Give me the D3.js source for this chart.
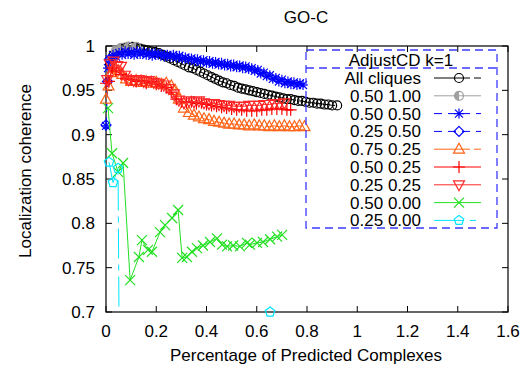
<!DOCTYPE html>
<html>
<head>
<meta charset="utf-8">
<script src="https://cdn.jsdelivr.net/npm/d3@7"></script>
<style>
body{margin:0;background:#fff;}
text{font-family:"Liberation Sans",Arial,sans-serif;font-size:17px;fill:#000;}
</style>
</head>
<body>
<svg id="chart" width="524" height="369"></svg>
<script>
// data: [percentage, coherence]
var allCliques = [[0.016,0.980],[0.03,0.990],[0.045,0.995],[0.06,0.997],[0.075,0.998],[0.09,0.999],[0.105,0.999],[0.12,0.998],[0.135,0.997],[0.15,0.996],[0.165,0.995],[0.18,0.994],[0.195,0.993],[0.21,0.992],[0.225,0.990],[0.24,0.988],[0.255,0.986],[0.27,0.984],[0.285,0.982],[0.30,0.980],[0.315,0.978],[0.33,0.976],[0.345,0.975],[0.36,0.973],[0.375,0.971],[0.39,0.969],[0.405,0.967],[0.42,0.965],[0.435,0.963],[0.45,0.961],[0.465,0.959],[0.48,0.958],[0.495,0.956],[0.51,0.955],[0.525,0.953],[0.54,0.952],[0.555,0.951],[0.57,0.950],[0.585,0.949],[0.60,0.948],[0.615,0.947],[0.63,0.946],[0.645,0.945],[0.66,0.944],[0.675,0.943],[0.69,0.942],[0.705,0.941],[0.72,0.940],[0.735,0.940],[0.75,0.939],[0.765,0.938],[0.78,0.938],[0.795,0.937],[0.81,0.936],[0.825,0.936],[0.84,0.935],[0.855,0.935],[0.87,0.934],[0.885,0.934],[0.90,0.933],[0.92,0.933]];
var s050_100 = [[0.02,0.985],[0.04,0.995],[0.06,0.998],[0.09,0.999],[0.12,0.999]];
var s050_050 = [[0.0,0.910],[0.008,0.975],[0.016,0.985],[0.028,0.990],[0.04,0.988],[0.052,0.992],[0.064,0.990],[0.076,0.994],[0.088,0.991],[0.10,0.993],[0.112,0.990],[0.124,0.994],[0.136,0.991],[0.148,0.993],[0.16,0.990],[0.172,0.992],[0.184,0.989],[0.196,0.992],[0.208,0.990],[0.22,0.991],[0.232,0.988],[0.244,0.990],[0.256,0.988],[0.268,0.990],[0.28,0.987],[0.292,0.989],[0.304,0.986],[0.316,0.987],[0.328,0.985],[0.34,0.986],[0.352,0.983],[0.364,0.985],[0.376,0.982],[0.388,0.984],[0.40,0.981],[0.412,0.983],[0.424,0.980],[0.436,0.982],[0.448,0.979],[0.46,0.981],[0.472,0.978],[0.484,0.980],[0.496,0.977],[0.508,0.979],[0.52,0.976],[0.532,0.978],[0.544,0.975],[0.556,0.977],[0.568,0.974],[0.58,0.975],[0.592,0.972],[0.604,0.973],[0.616,0.969],[0.628,0.970],[0.64,0.966],[0.652,0.967],[0.664,0.963],[0.676,0.964],[0.688,0.960],[0.70,0.962],[0.712,0.958],[0.724,0.960],[0.736,0.957],[0.748,0.959],[0.76,0.956],[0.772,0.958],[0.784,0.956]];
var s025_050 = [[0.0,0.911],[0.006,0.960],[0.014,0.985]];
var s075_025 = [[0.0,0.940],[0.01,0.955],[0.02,0.970],[0.035,0.975],[0.05,0.972],[0.065,0.968],[0.08,0.963],[0.10,0.960],[0.12,0.961],[0.14,0.959],[0.16,0.960],[0.18,0.958],[0.20,0.959],[0.22,0.957],[0.24,0.958],[0.26,0.955],[0.275,0.950],[0.29,0.940],[0.31,0.930],[0.33,0.925],[0.35,0.922],[0.37,0.920],[0.39,0.918],[0.41,0.917],[0.43,0.915],[0.45,0.914],[0.47,0.913],[0.49,0.912],[0.51,0.912],[0.53,0.911],[0.55,0.911],[0.57,0.910],[0.59,0.911],[0.61,0.910],[0.63,0.910],[0.65,0.909],[0.67,0.910],[0.69,0.909],[0.71,0.910],[0.73,0.909],[0.75,0.909],[0.77,0.910],[0.79,0.909]];
var s050_025 = [[0.0,0.958],[0.012,0.960],[0.025,0.975],[0.04,0.972],[0.06,0.968],[0.08,0.963],[0.10,0.962],[0.12,0.960],[0.14,0.961],[0.16,0.958],[0.18,0.960],[0.20,0.957],[0.22,0.955],[0.24,0.953],[0.26,0.948],[0.28,0.940],[0.30,0.937],[0.32,0.936],[0.34,0.937],[0.36,0.935],[0.38,0.936],[0.40,0.934],[0.42,0.933],[0.44,0.932],[0.46,0.931],[0.48,0.930],[0.50,0.929],[0.52,0.928],[0.54,0.928],[0.56,0.927],[0.58,0.927],[0.60,0.927],[0.62,0.928],[0.64,0.928],[0.66,0.929],[0.68,0.929],[0.70,0.929],[0.72,0.928],[0.735,0.928]];
var s025_025 = [[0.005,0.962],[0.015,0.980],[0.03,0.983],[0.045,0.978],[0.06,0.977],[0.075,0.967],[0.09,0.962],[0.11,0.961],[0.13,0.962],[0.15,0.960],[0.17,0.961],[0.19,0.959],[0.21,0.958],[0.23,0.956],[0.25,0.952],[0.27,0.946],[0.29,0.939],[0.31,0.936],[0.33,0.938],[0.35,0.937],[0.37,0.938],[0.39,0.936],[0.41,0.935],[0.43,0.935],[0.45,0.934],[0.47,0.933],[0.49,0.933],[0.51,0.932],[0.53,0.932],[0.55,0.932],[0.57,0.933],[0.59,0.933],[0.61,0.933],[0.63,0.934],[0.65,0.934],[0.67,0.935],[0.69,0.935],[0.71,0.936]];
var s050_000 = [[0.008,0.930],[0.024,0.879],[0.048,0.858],[0.068,0.868],[0.096,0.736],[0.131,0.762],[0.143,0.781],[0.167,0.770],[0.183,0.768],[0.215,0.790],[0.235,0.798],[0.263,0.806],[0.287,0.815],[0.303,0.761],[0.322,0.762],[0.342,0.768],[0.362,0.772],[0.386,0.775],[0.414,0.779],[0.442,0.783],[0.462,0.776],[0.482,0.774],[0.506,0.775],[0.533,0.774],[0.561,0.778],[0.573,0.776],[0.601,0.778],[0.625,0.779],[0.653,0.782],[0.681,0.785],[0.701,0.787]];
var s025_000 = [[0.012,0.869],[0.028,0.846],[0.048,0.862],[0.056,0.500],[0.653,0.700]];

var seriesNames = ["All cliques","0.50 1.00","0.50 0.50","0.25 0.50","0.75 0.25","0.50 0.25","0.25 0.25","0.50 0.00","0.25 0.00"];
var seriesData = [allCliques, s050_100, s050_050, s025_050, s075_025, s050_025, s025_025, s050_000, s025_000];
var seriesColors = ["#000000","#a0a0a0","#0000ff","#0000ff","#ff6418","#ff0000","#ff2828","#22e022","#00e5ff"];
var seriesMarkers = ["circle","half","star","diamond","tri","plus","tridown","cross","penta"];
var seriesDash = ["36,4,8,4",null,"8,6","8,6","36,4,8,4",null,null,null,"30,6,6,6"];

var xTicks = [0,0.2,0.4,0.6,0.8,1,1.2,1.4,1.6];
var yTicks = [0.7,0.75,0.8,0.85,0.9,0.95,1];

var margin = {top:46, right:16, bottom:57, left:106};
var width = 524 - margin.left - margin.right;
var height = 369 - margin.top - margin.bottom;

var svg = d3.select("#chart");
var g = svg.append("g").attr("transform","translate(" + margin.left + "," + margin.top + ")");

var x = d3.scaleLinear().domain([0,1.6]).range([0,width]);
var y = d3.scaleLinear().domain([0.7,1]).range([height,0]);

svg.append("defs").append("clipPath").attr("id","plotclip")
	.append("rect").attr("width",width).attr("height",height);

function marker(type){
	var p = d3.path();
	if(type == "circle" || type == "half"){
		p.moveTo(4.5,0); p.arc(0,0,4.5,0,2*Math.PI);
	}else if(type == "star"){
		p.moveTo(-5,0); p.lineTo(5,0); p.moveTo(0,-5); p.lineTo(0,5);
		p.moveTo(-4,-4); p.lineTo(4,4); p.moveTo(-4,4); p.lineTo(4,-4);
	}else if(type == "diamond"){
		p.moveTo(0,-5); p.lineTo(5,0); p.lineTo(0,5); p.lineTo(-5,0); p.closePath();
	}else if(type == "tri"){
		p.moveTo(0,-6); p.lineTo(5.5,4); p.lineTo(-5.5,4); p.closePath();
	}else if(type == "tridown"){
		p.moveTo(0,6); p.lineTo(5.5,-4); p.lineTo(-5.5,-4); p.closePath();
	}else if(type == "plus"){
		p.moveTo(-6,0); p.lineTo(6,0); p.moveTo(0,-6); p.lineTo(0,6);
	}else if(type == "cross"){
		p.moveTo(-5,-5); p.lineTo(5,5); p.moveTo(-5,5); p.lineTo(5,-5);
	}else if(type == "penta"){
		for(var k = 0; k < 5; k++){
			var a = -Math.PI/2 + k*2*Math.PI/5;
			if(k == 0) p.moveTo(5*Math.cos(a),5*Math.sin(a));
			else p.lineTo(5*Math.cos(a),5*Math.sin(a));
		}
		p.closePath();
	}
	return p.toString();
}

function drawMarker(sel, type, color){
	sel.append("path")
		.attr("d", marker(type))
		.attr("fill","none")
		.attr("stroke", color)
		.attr("stroke-width", 1.2);
	if(type == "half"){
		sel.append("path")
			.attr("d", d3.arc().innerRadius(0).outerRadius(4.5).startAngle(Math.PI).endAngle(2*Math.PI)())
			.attr("fill", color);
	}
}

// frame + ticks
g.append("rect").attr("width",width).attr("height",height)
	.attr("fill","none").attr("stroke","#000").attr("stroke-width",1.2);

g.selectAll(".xt").data(xTicks).enter().append("path")
	.attr("d", function(d){ return "M" + x(d) + "," + height + "v-6M" + x(d) + ",0v6"; })
	.attr("stroke","#000");
g.selectAll(".yt").data(yTicks).enter().append("path")
	.attr("d", function(d){ return "M0," + y(d) + "h6M" + width + "," + y(d) + "h-6"; })
	.attr("stroke","#000");

g.selectAll(".xl").data(xTicks).enter().append("text")
	.attr("x", function(d){ return x(d); })
	.attr("y", height + 25)
	.attr("text-anchor","middle")
	.text(function(d){ return d; });
g.selectAll(".yl").data(yTicks).enter().append("text")
	.attr("x", -11)
	.attr("y", function(d){ return y(d) + 6; })
	.attr("text-anchor","end")
	.text(function(d){ return d; });

svg.append("text").attr("x", 306).attr("y", 23).attr("text-anchor","middle").text("GO-C");
svg.append("text").attr("x", 306).attr("y", 361).attr("text-anchor","middle").text("Percentage of Predicted Complexes");
svg.append("text").attr("transform","translate(31,171) rotate(-90)").attr("text-anchor","middle").text("Localization coherence");

// series
var line = d3.line().x(function(d){ return x(d[0]); }).y(function(d){ return y(d[1]); });
seriesData.forEach(function(data, i){
	g.append("path")
		.datum(data)
		.attr("clip-path","url(#plotclip)")
		.attr("d", line)
		.attr("fill","none")
		.attr("stroke", seriesColors[i])
		.attr("stroke-width", 1)
		.attr("stroke-dasharray", seriesDash[i]);
	g.selectAll(".m" + i)
		.data(data.filter(function(d){ return d[1] >= 0.7 && d[1] <= 1; }))
		.enter().append("g")
		.attr("transform", function(d){ return "translate(" + x(d[0]) + "," + y(d[1]) + ")"; })
		.each(function(){ drawMarker(d3.select(this), seriesMarkers[i], seriesColors[i]); });
});

// legend
var lg = svg.append("g");
lg.append("rect").attr("x",306).attr("y",50).attr("width",191).attr("height",178)
	.attr("fill","none").attr("stroke","#3a3aff").attr("stroke-width",1.3).attr("stroke-dasharray","8,5");
lg.append("line").attr("x1",306).attr("x2",497).attr("y1",68).attr("y2",68)
	.attr("stroke","#3a3aff").attr("stroke-width",1.3).attr("stroke-dasharray","8,5");
lg.append("text").attr("x",401).attr("y",66).attr("text-anchor","middle").text("AdjustCD k=1");

var rows = lg.selectAll(".row").data(seriesNames).enter().append("g")
	.attr("transform", function(d,i){ return "translate(0," + (78 + i*17.8) + ")"; });
rows.append("text").attr("x",421).attr("y",6).attr("text-anchor","end").text(function(d){ return d; });
rows.append("line").attr("x1",434).attr("x2",481).attr("y1",0).attr("y2",0)
	.attr("stroke", function(d,i){ return seriesColors[i]; })
	.attr("stroke-dasharray", function(d,i){ return seriesDash[i]; });
rows.append("g").attr("transform","translate(459,0)")
	.each(function(d,i){ drawMarker(d3.select(this), seriesMarkers[i], seriesColors[i]); });
</script>
</body>
</html>
